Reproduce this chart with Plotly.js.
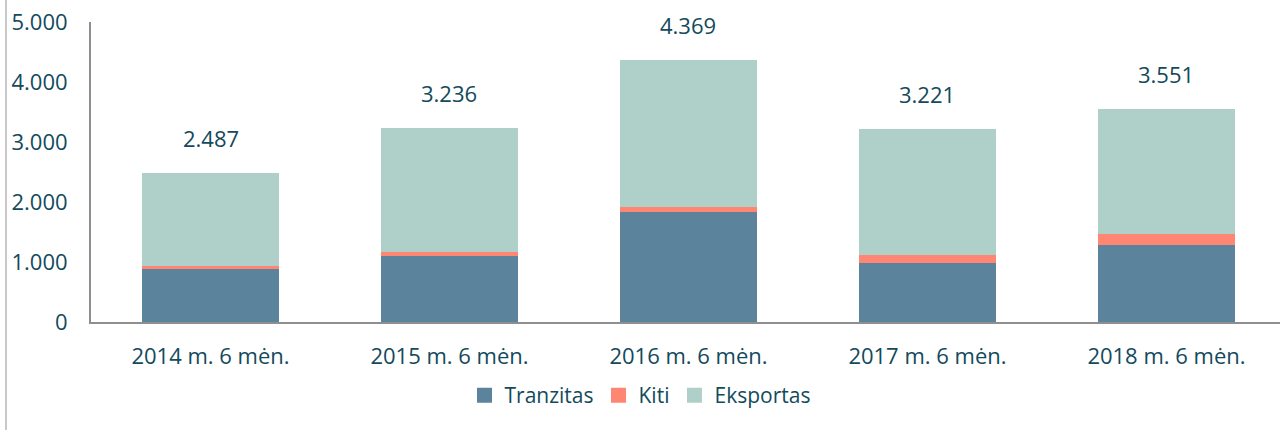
<!DOCTYPE html>
<html>
<head>
<meta charset="utf-8">
<script src="https://cdn.plot.ly/plotly-3.0.1.min.js"></script>
<style>
html,body{margin:0;padding:0;background:#fff;}
#chart{width:1280px;height:430px;}
</style>
</head>
<body>
<div id="chart"></div>
<script>
const categories = ["2014 m. 6 mėn.", "2015 m. 6 mėn.", "2016 m. 6 mėn.", "2017 m. 6 mėn.", "2018 m. 6 mėn."];
const tranzitas = [883, 1105, 1838, 983, 1283];
const kiti = [50, 67, 84, 134, 189];
const eksportas = [1554, 2064, 2447, 2104, 2079];
const totals = [2487, 3236, 4369, 3221, 3551];
const totalLabels = ["2.487", "3.236", "4.369", "3.221", "3.551"];
const seriesNames = ["Tranzitas", "Kiti", "Eksportas"];
const seriesColors = ["#5b849c", "#ff8673", "#afd0c8"];
const yTickVals = [0, 1000, 2000, 3000, 4000, 5000];
const yTickText = ["0", "1.000", "2.000", "3.000", "4.000", "5.000"];

const textColor = "#134a5c";
const fam = "Open Sans, Noto Sans, sans-serif";

const seriesValues = [tranzitas, kiti, eksportas];
const traces = seriesValues.map((vals, i) => ({
  type: "bar", name: seriesNames[i], x: categories, y: vals,
  marker: {color: seriesColors[i]}, hoverinfo: "skip", showlegend: false
}));
// legend entries with larger square swatches
seriesNames.forEach((n, i) => traces.push({
  type: "scatter", mode: "markers", name: n, x: [null], y: [null],
  marker: {symbol: "square", size: 15, color: seriesColors[i]},
  hoverinfo: "skip", showlegend: true
}));

const annotations = categories.map((c, i) => ({
  x: c, y: totals[i], xref: "x", yref: "y",
  text: totalLabels[i], showarrow: false,
  yanchor: "bottom", yshift: 18,
  font: {family: fam, size: 22, color: textColor}
}));

const layout = {
  width: 1280, height: 430,
  margin: {l: 91, r: 0, t: 22, b: 108, pad: 0},
  paper_bgcolor: "#ffffff", plot_bgcolor: "#ffffff",
  barmode: "stack",
  bargap: 0.43,
  font: {family: fam, size: 21, color: textColor},
  showlegend: true,
  legend: {
    orientation: "h", xref: "container", yref: "container",
    x: 0.5, xanchor: "center", y: 0.08, yanchor: "middle",
    font: {family: fam, size: 21, color: textColor},
    itemwidth: 30, traceorder: "normal"
  },
  xaxis: {
    type: "category",
    range: [-0.5, 4.475],
    showline: true, linecolor: "#8f8f8f", linewidth: 2,
    showgrid: false, zeroline: false,
    ticks: "", ticklabelstandoff: 14,
    tickfont: {family: fam, size: 22, color: textColor},
    fixedrange: true
  },
  yaxis: {
    range: [0, 5000],
    tickvals: yTickVals, ticktext: yTickText,
    showline: true, linecolor: "#8f8f8f", linewidth: 2,
    showgrid: false, zeroline: false,
    ticks: "", ticklabelstandoff: 17,
    tickfont: {family: fam, size: 22, color: textColor},
    fixedrange: true
  },
  annotations: annotations,
  shapes: [{
    type: "line", xref: "paper", yref: "paper",
    x0: (6 - 91) / 1189, x1: (6 - 91) / 1189,
    y0: -108 / 300, y1: 322 / 300,
    line: {color: "#c8c8c8", width: 2}
  }]
};

Plotly.newPlot("chart", traces, layout, {displayModeBar: false, staticPlot: true});
</script>
</body>
</html>
